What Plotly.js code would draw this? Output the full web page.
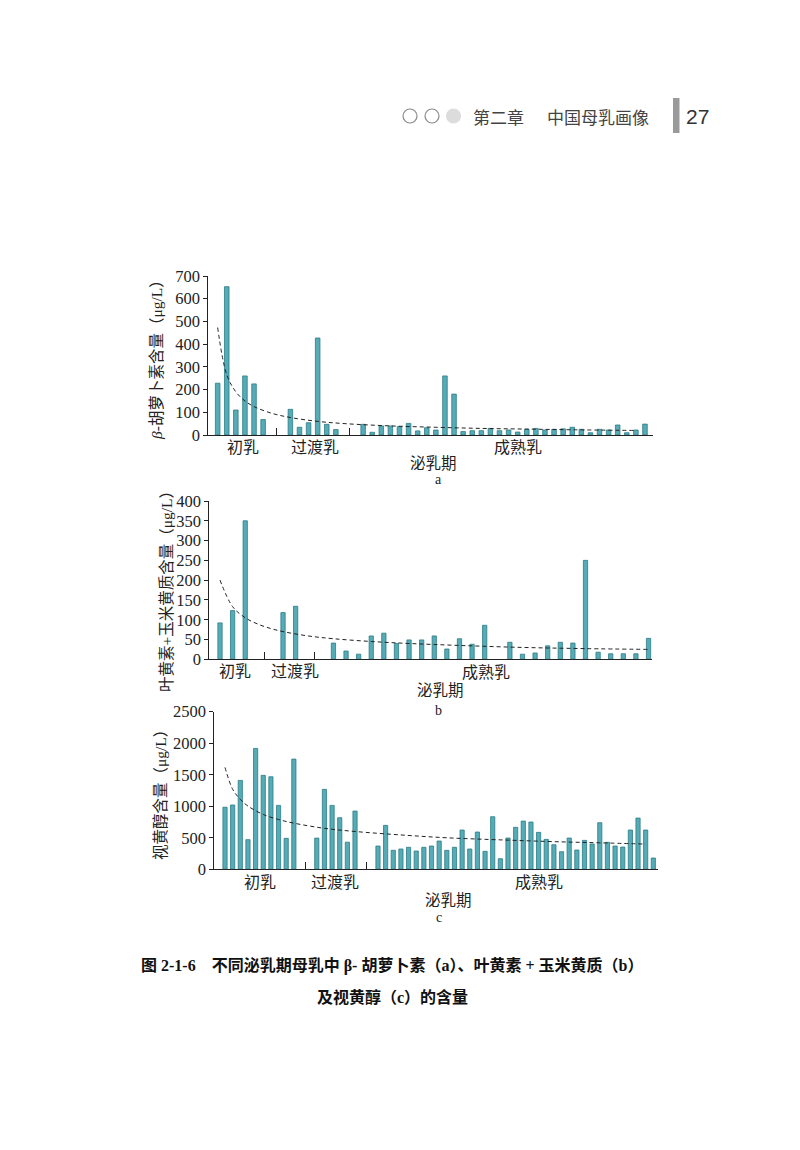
<!DOCTYPE html>
<html>
<head>
<meta charset="utf-8">
<script src="https://cdn.plot.ly/plotly-3.0.1.min.js"></script>
<style>
  html, body { margin: 0; padding: 0; background: #ffffff; }
  #chart { width: 800px; height: 1150px; }
</style>
</head>
<body>
<div id="chart"></div>
<script>
// ---------------- DATA ----------------
const groupLabels = ['初乳', '过渡乳', '成熟乳'];

// (a) β-胡萝卜素 (μg/L)
const betaColostrum = [228, 653, 110, 260, 225, 68];
const betaTransition = [113, 34, 54, 427, 47, 24];
const betaMature = [47, 12, 40, 40, 37, 51, 18, 32, 22, 260, 180, 15, 19, 19, 29, 19,
                    22, 13, 25, 29, 22, 25, 27, 34, 25, 10, 25, 22, 44, 10, 22, 48];
const betaTrendIdx = [1, 2, 3, 4, 5, 7, 9, 12, 15, 20, 25, 30, 35, 40, 47];
const betaTrendVal = [473, 265, 190, 150, 125, 95, 77, 60, 50, 40, 34, 29, 26, 23, 20];

// (b) 叶黄素 + 玉米黄质 (μg/L)
const luteinColostrum = [92, 123, 350];
const luteinTransition = [118, 134];
const luteinMature = [41, 21, 13, 59, 66, 40, 49, 49, 59, 26, 52, 38, 86, null,
                      43, 13, 16, 34, 43, 41, 250, 18, 14, 14, 14, 53];
const luteinTrendIdx = [1, 2, 3, 4, 5, 6, 8, 10, 13, 16, 20, 25, 30, 35];
const luteinTrendVal = [200, 133, 105, 89, 78, 70, 59, 52, 45, 40, 35, 30, 27, 25];

// (c) 视黄醇 (μg/L)
const retinolColostrum = [985, 1020, 1410, 470, 1917, 1490, 1468, 1014, 491, 1748];
const retinolTransition = [495, 1268, 1014, 818, 430, 924];
const retinolMature = [369, 697, 301, 322, 349, 290, 349, 369, 449, 301, 349, 623, 322,
                       591, 285, 834, 168, 496, 666, 765, 750, 586, 475, 390, 279, 496,
                       306, 459, 401, 739, 428, 369, 353, 623, 813, 623, 179];
const retinolTrendIdx = [1, 2, 3, 4, 6, 8, 10, 14, 18, 24, 30, 37, 45, 50, 56];
const retinolTrendVal = [1616, 1270, 1110, 1003, 870, 790, 732, 650, 600, 545, 500, 467, 435, 420, 400];

const betaTicks = [0, 100, 200, 300, 400, 500, 600, 700];
const luteinTicks = [0, 50, 100, 150, 200, 250, 300, 350, 400];
const retinolTicks = [0, 500, 1000, 1500, 2000, 2500];

// ---------------- HELPERS ----------------
const W = 800, H = 1150;
const px = x => x / W;
const py = y => 1 - y / H;
const GAP = 2;

function layoutGroups(groups) {
  const xs = [], ys = [], seps = [];
  let s = 1;
  groups.forEach((g, gi) => {
    g.forEach(v => { xs.push(s); ys.push(v); s++; });
    if (gi < groups.length - 1) { seps.push(s - 1 + (GAP + 1) / 2); s += GAP; }
  });
  return { xs, ys, seps };
}

const FILL = '#55abb6';
const EDGE = '#2c7c87';
const AX = '#222222';
const TICKFONT = { family: 'Liberation Serif, Noto Sans CJK SC, serif', size: 16.5, color: '#222' };
const LABFONT = { family: 'Liberation Serif, Noto Sans CJK SC, serif', size: 16, color: '#222' };

const A = layoutGroups([betaColostrum, betaTransition, betaMature]);
const B = layoutGroups([luteinColostrum, luteinTransition, luteinMature]);
const C = layoutGroups([retinolColostrum, retinolTransition, retinolMature]);

function bars(G, xa, ya, width) {
  return {
    type: 'bar', x: G.xs, y: G.ys, xaxis: xa, yaxis: ya, width: width,
    marker: { color: FILL, line: { color: EDGE, width: 0.8 } },
    hoverinfo: 'x+y', showlegend: false
  };
}
function trend(xs, ys, xa, ya) {
  return {
    type: 'scatter', mode: 'lines', x: xs, y: ys, xaxis: xa, yaxis: ya,
    line: { color: '#222', width: 1, dash: '4px,3px', shape: 'spline', smoothing: 1 },
    hoverinfo: 'skip', showlegend: false
  };
}

const data = [
  bars(A, 'x', 'y', 0.5), trend(betaTrendIdx, betaTrendVal, 'x', 'y'),
  bars(B, 'x2', 'y2', 0.34), trend(luteinTrendIdx, luteinTrendVal, 'x2', 'y2'),
  bars(C, 'x3', 'y3', 0.55), trend(retinolTrendIdx, retinolTrendVal, 'x3', 'y3')
];

function xax(dom, range, seps, yname) {
  return {
    domain: dom, range: range, anchor: yname,
    showline: true, linecolor: AX, linewidth: 1,
    ticks: 'inside', ticklen: 7, tickwidth: 1, tickcolor: AX,
    tickvals: seps.concat([range[1] - 0.05]), showticklabels: false,
    showgrid: false, zeroline: false, fixedrange: true
  };
}
function yax(dom, range, ticks, xname) {
  return {
    domain: dom, range: range, anchor: xname,
    tickvals: ticks, ticktext: ticks.map(String),
    showline: true, linecolor: AX, linewidth: 1,
    ticks: 'outside', ticklen: 4, tickwidth: 1, tickcolor: AX,
    tickfont: TICKFONT, showgrid: false, zeroline: false, fixedrange: true
  };
}

function ann(text, x, y, font, extra) {
  return Object.assign({ text: text, x: px(x), y: py(y), xref: 'paper', yref: 'paper',
    showarrow: false, xanchor: 'center', yanchor: 'middle', font: font }, extra || {});
}

const YT = { family: 'Liberation Serif, Noto Sans CJK SC, serif', size: 15.5, color: '#222' };
const HEAD = { family: 'Noto Sans CJK SC, sans-serif', size: 17, color: '#444' };
const CAP = { family: 'Liberation Serif, Noto Sans CJK SC, serif', size: 16, color: '#111' };
const SUB = { family: 'Liberation Serif, serif', size: 14, color: '#222' };
const LAB2 = { family: 'Liberation Serif, Noto Sans CJK SC, serif', size: 15.5, color: '#222' };

const annotations = [
  // header
  ann('第二章', 498, 116, HEAD),
  ann('中国母乳画像', 598, 116, HEAD),
  ann('27', 697, 116, { family: 'Liberation Sans, Arial, sans-serif', size: 21, color: '#333' }),
  // panel a
  ann('<i>β</i>-胡萝卜素含量（μg/L）', 156, 356, YT, { textangle: -90 }),
  ann(groupLabels[0], 243, 447, LABFONT),
  ann(groupLabels[1], 315, 447, LABFONT),
  ann(groupLabels[2], 518, 447, LABFONT),
  ann('泌乳期', 433, 463, LAB2),
  ann('a', 439, 479, SUB),
  // panel b
  ann('叶黄素+玉米黄质含量（μg/L）', 166, 588, YT, { textangle: -90 }),
  ann(groupLabels[0], 235, 671, LABFONT),
  ann(groupLabels[1], 295, 671, LABFONT),
  ann(groupLabels[2], 486, 672, LABFONT),
  ann('泌乳期', 440, 690, LAB2),
  ann('b', 439, 710, SUB),
  // panel c
  ann('视黄醇含量（μg/L）', 160, 791, YT, { textangle: -90 }),
  ann(groupLabels[0], 260, 882, LABFONT),
  ann(groupLabels[1], 335, 882, LABFONT),
  ann(groupLabels[2], 539, 882, LABFONT),
  ann('泌乳期', 448, 900, LAB2),
  ann('c', 439, 917, SUB),
  // caption
  ann('<b>图 2-1-6　不同泌乳期母乳中 β- 胡萝卜素（a）、叶黄素 + 玉米黄质（b）</b>', 392, 965, CAP),
  ann('<b>及视黄醇（c）的含量</b>', 392, 997, CAP)
];

function circ(cx, cy, r, fill, line) {
  return { type: 'circle', xref: 'paper', yref: 'paper',
    x0: px(cx - r), x1: px(cx + r), y0: py(cy + r), y1: py(cy - r),
    fillcolor: fill, line: { color: line, width: 1.2 } };
}
const shapes = [
  circ(410, 116, 7, 'rgba(0,0,0,0)', '#8a8a8a'),
  circ(432, 116, 7, 'rgba(0,0,0,0)', '#8a8a8a'),
  circ(453.5, 116, 7, '#dcdcdc', '#dcdcdc'),
  { type: 'rect', xref: 'paper', yref: 'paper', x0: px(673), x1: px(679.5), y0: py(133), y1: py(98),
    fillcolor: '#9a9a9a', line: { width: 0 } }
];

const layout = {
  width: W, height: H,
  margin: { l: 0, r: 0, t: 0, b: 0 },
  paper_bgcolor: '#ffffff', plot_bgcolor: 'rgba(0,0,0,0)',
  bargap: 0, showlegend: false,
  xaxis: xax([px(208.3), px(652.7)], [-0.03, 48.85], A.seps, 'y'),
  yaxis: yax([py(435), py(276)], [0, 700], betaTicks, 'x'),
  xaxis2: xax([px(209.3), px(652.3)], [0.15, 35.3], B.seps, 'y2'),
  yaxis2: yax([py(659.3), py(501)], [0, 400], luteinTicks, 'x2'),
  xaxis3: xax([px(214.3), px(658.3)], [-0.4, 57.65], C.seps, 'y3'),
  yaxis3: yax([py(869.3), py(711.7)], [0, 2500], retinolTicks, 'x3'),
  annotations: annotations,
  shapes: shapes
};

Plotly.newPlot('chart', data, layout, { displayModeBar: false, staticPlot: true });
</script>
</body>
</html>
